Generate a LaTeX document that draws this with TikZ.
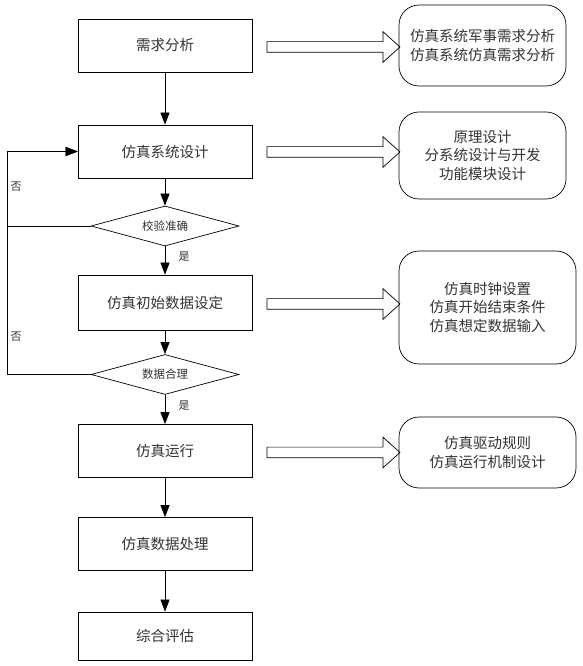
\documentclass[tikz,border=0pt]{standalone}
\usepackage{fontspec}
\newfontfamily\cjk{Noto Sans CJK SC}
\usepackage{tikz}
\usetikzlibrary{positioning}
\usetikzlibrary{shapes.geometric}
\usetikzlibrary{shapes.arrows}
\usetikzlibrary{arrows.meta}

\begin{document}
\begin{tikzpicture}[x=1pt, y=1pt, node distance=50pt, every text node part/.style={align=center},
  stepbox/.style={draw, line width=0.7pt, minimum width=174pt, minimum height=53pt, inner sep=0pt, font=\cjk\fontsize{14.5}{17}\selectfont, text=black!80},
  checkbox/.style={diamond, draw, line width=0.7pt, minimum width=148pt, minimum height=40pt, inner sep=0pt, aspect=3.7, font=\cjk\fontsize{11.5}{14}\selectfont, text=black!80},
  notebox/.style={draw, rounded corners=20pt, line width=0.7pt, minimum width=167pt, inner sep=0pt, font=\cjk\fontsize{14.5}{18.5}\selectfont, text=black!80},
  hollow/.style={single arrow, draw, line width=0.7pt, minimum height=133pt, inner sep=5pt, single arrow head extend=10pt, single arrow tip angle=84},
  flow/.style={line width=0.7pt, -{Triangle[length=12pt, width=9pt]}},
  tag/.style={font=\cjk\fontsize{11}{13}\selectfont, text=black!80}]
\useasboundingbox (0,0) rectangle (583,666);

% main column
\node (need) [stepbox] at (165, 620.5) {需求分析};
\node (design) [stepbox, node distance=106pt, below of=need] {仿真系统设计};
\node (check) [checkbox, node distance=74.5pt, below of=design] {校验准确};
\node (init) [stepbox, minimum height=55pt, node distance=76.5pt, below of=check] {仿真初始数据设定};
\node (reason) [checkbox, node distance=72pt, below of=init] {数据合理};
\node (run) [stepbox, node distance=76.5pt, below of=reason] {仿真运行};
\node (process) [stepbox, node distance=93pt, below of=run] {仿真数据处理};
\node (eval) [stepbox, minimum height=48pt, node distance=92pt, below of=process] {综合评估};

% notes on the right
\node (need note) [notebox, minimum height=81pt] at (482.5, 620.5) {仿真系统军事需求分析\\仿真系统仿真需求分析};
\node (design note) [notebox, minimum height=87pt] at (482.5, 510.5) {原理设计\\分系统设计与开发\\功能模块设计};
\node (init note) [notebox, minimum width=177pt, minimum height=113pt] at (487.5, 358.5) {仿真时钟设置\\仿真开始结束条件\\仿真想定数据输入};
\node (run note) [notebox, minimum width=177pt, minimum height=71pt] at (487.5, 213.5) {仿真驱动规则\\仿真运行机制设计};

\node (need arrow) [hollow] at (330.5, 619) {};
\node (design arrow) [hollow] at (330.5, 514) {};
\node (init arrow) [hollow] at (330.5, 362) {};
\node (run arrow) [hollow] at (330.5, 213.5) {};

\draw [flow] (need) -- (design);
\draw [flow] (design) -- (check);
\draw [flow] (check) -- node [tag, right=10pt, pos=0.35] {是} (init);
\draw [flow] (init) -- (reason);
\draw [flow] (reason) -- node [tag, right=10pt, pos=0.35] {是} (run);
\draw [flow] (run) -- (process);
\draw [flow] (process) -- (eval);

% loops back
\draw [flow] (check.west) -- ++(-83,0) |- (design.west);
\draw [flow] (reason.west) -- ++(-83,0) |- (design.west);
\node (no check) [tag] at (16, 479) {否};
\node (no reason) [tag] at (16, 329) {否};

\end{tikzpicture}
\end{document}
